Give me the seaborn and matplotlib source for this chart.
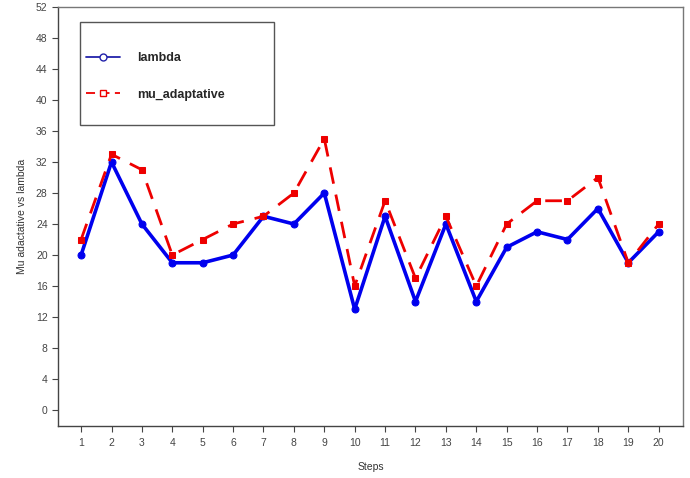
import numpy as np
import pandas as pd
import matplotlib
matplotlib.use('Agg')
import matplotlib.pyplot as plt
from matplotlib.lines import Line2D
from matplotlib.patches import Rectangle
import seaborn as sns

# datos
steps = list(range(1, 21))
lambda_vals = [20, 32, 24, 19, 19, 20, 25, 24, 28, 13, 25, 14, 24, 14, 21, 23, 22, 26, 19, 23]
mu_vals = [22, 33, 31, 20, 22, 24, 25, 28, 35, 16, 27, 17, 25, 16, 24, 27, 27, 30, 19, 24]
y_ticks = list(range(0, 53, 4))

df = pd.DataFrame({'Steps': steps, 'lambda': lambda_vals, 'mu_adaptative': mu_vals})

sns.set_style('white')
plt.rcParams['font.family'] = ['Liberation Sans', 'DejaVu Sans']

W, H = 690, 478
fig = plt.figure(figsize=(6.9, 4.78), dpi=100)
ax = fig.add_axes([58 / W, 1 - 426 / H, (683 - 58) / W, (426 - 7) / H])

sns.lineplot(x='Steps', y='lambda', data=df, ax=ax, color='#0000ee', linewidth=2.6,
             marker='o', markersize=5, markeredgecolor='#0000ee', legend=False)
sns.lineplot(x='Steps', y='mu_adaptative', data=df, ax=ax, color='#ee0000', linewidth=2,
             marker='s', markersize=4.5, markeredgecolor='#ee0000', markerfacecolor='#ee0000',
             legend=False)
ax.lines[1].set_dashes([6, 4])

ax.set_xlim(0.24, 20.8)
ax.set_ylim(-2.06, 52)
ax.set_xticks(steps)
ax.set_yticks(y_ticks)
ax.tick_params(axis='both', labelsize=7.5, colors='#444444', length=4, width=0.8,
               direction='out', bottom=True, left=True)
ax.tick_params(axis='x', pad=5)
for s in ax.spines.values():
    s.set_color('#777777')
    s.set_linewidth(1)
ax.spines['left'].set_color('#444444')
ax.spines['bottom'].set_color('#444444')

ax.set_xlabel('Steps', fontsize=7.5, color='#333333', labelpad=10)
ax.set_ylabel('Mu adactative vs lambda', fontsize=7.5, color='#333333', labelpad=6)

# leyenda estilo R: caja dibujada aparte
fig.patches.append(Rectangle((80 / W, 1 - 125 / H), 194 / W, 103 / H,
                             transform=fig.transFigure, fill=False,
                             edgecolor='#555555', linewidth=1, zorder=5))
h = [Line2D([], [], color='#2222aa', linewidth=1.3, marker='o', markersize=5,
            markerfacecolor='white', markeredgecolor='#2222aa'),
     Line2D([], [], color='#ee0000', linewidth=1.3, marker='s', markersize=5,
            markerfacecolor='white', markeredgecolor='#ee0000', dashes=[5, 3])]
leg = ax.legend(h, ['lambda', 'mu_adaptative'], loc='center left',
                bbox_to_anchor=(86 / W, 1 - 76.5 / H), bbox_transform=fig.transFigure,
                borderaxespad=0, borderpad=0, frameon=False, handlelength=2.7,
                labelspacing=1.95, handletextpad=1.35,
                prop={'weight': 'bold', 'size': 9})

fig.savefig('out.png', dpi=100)
